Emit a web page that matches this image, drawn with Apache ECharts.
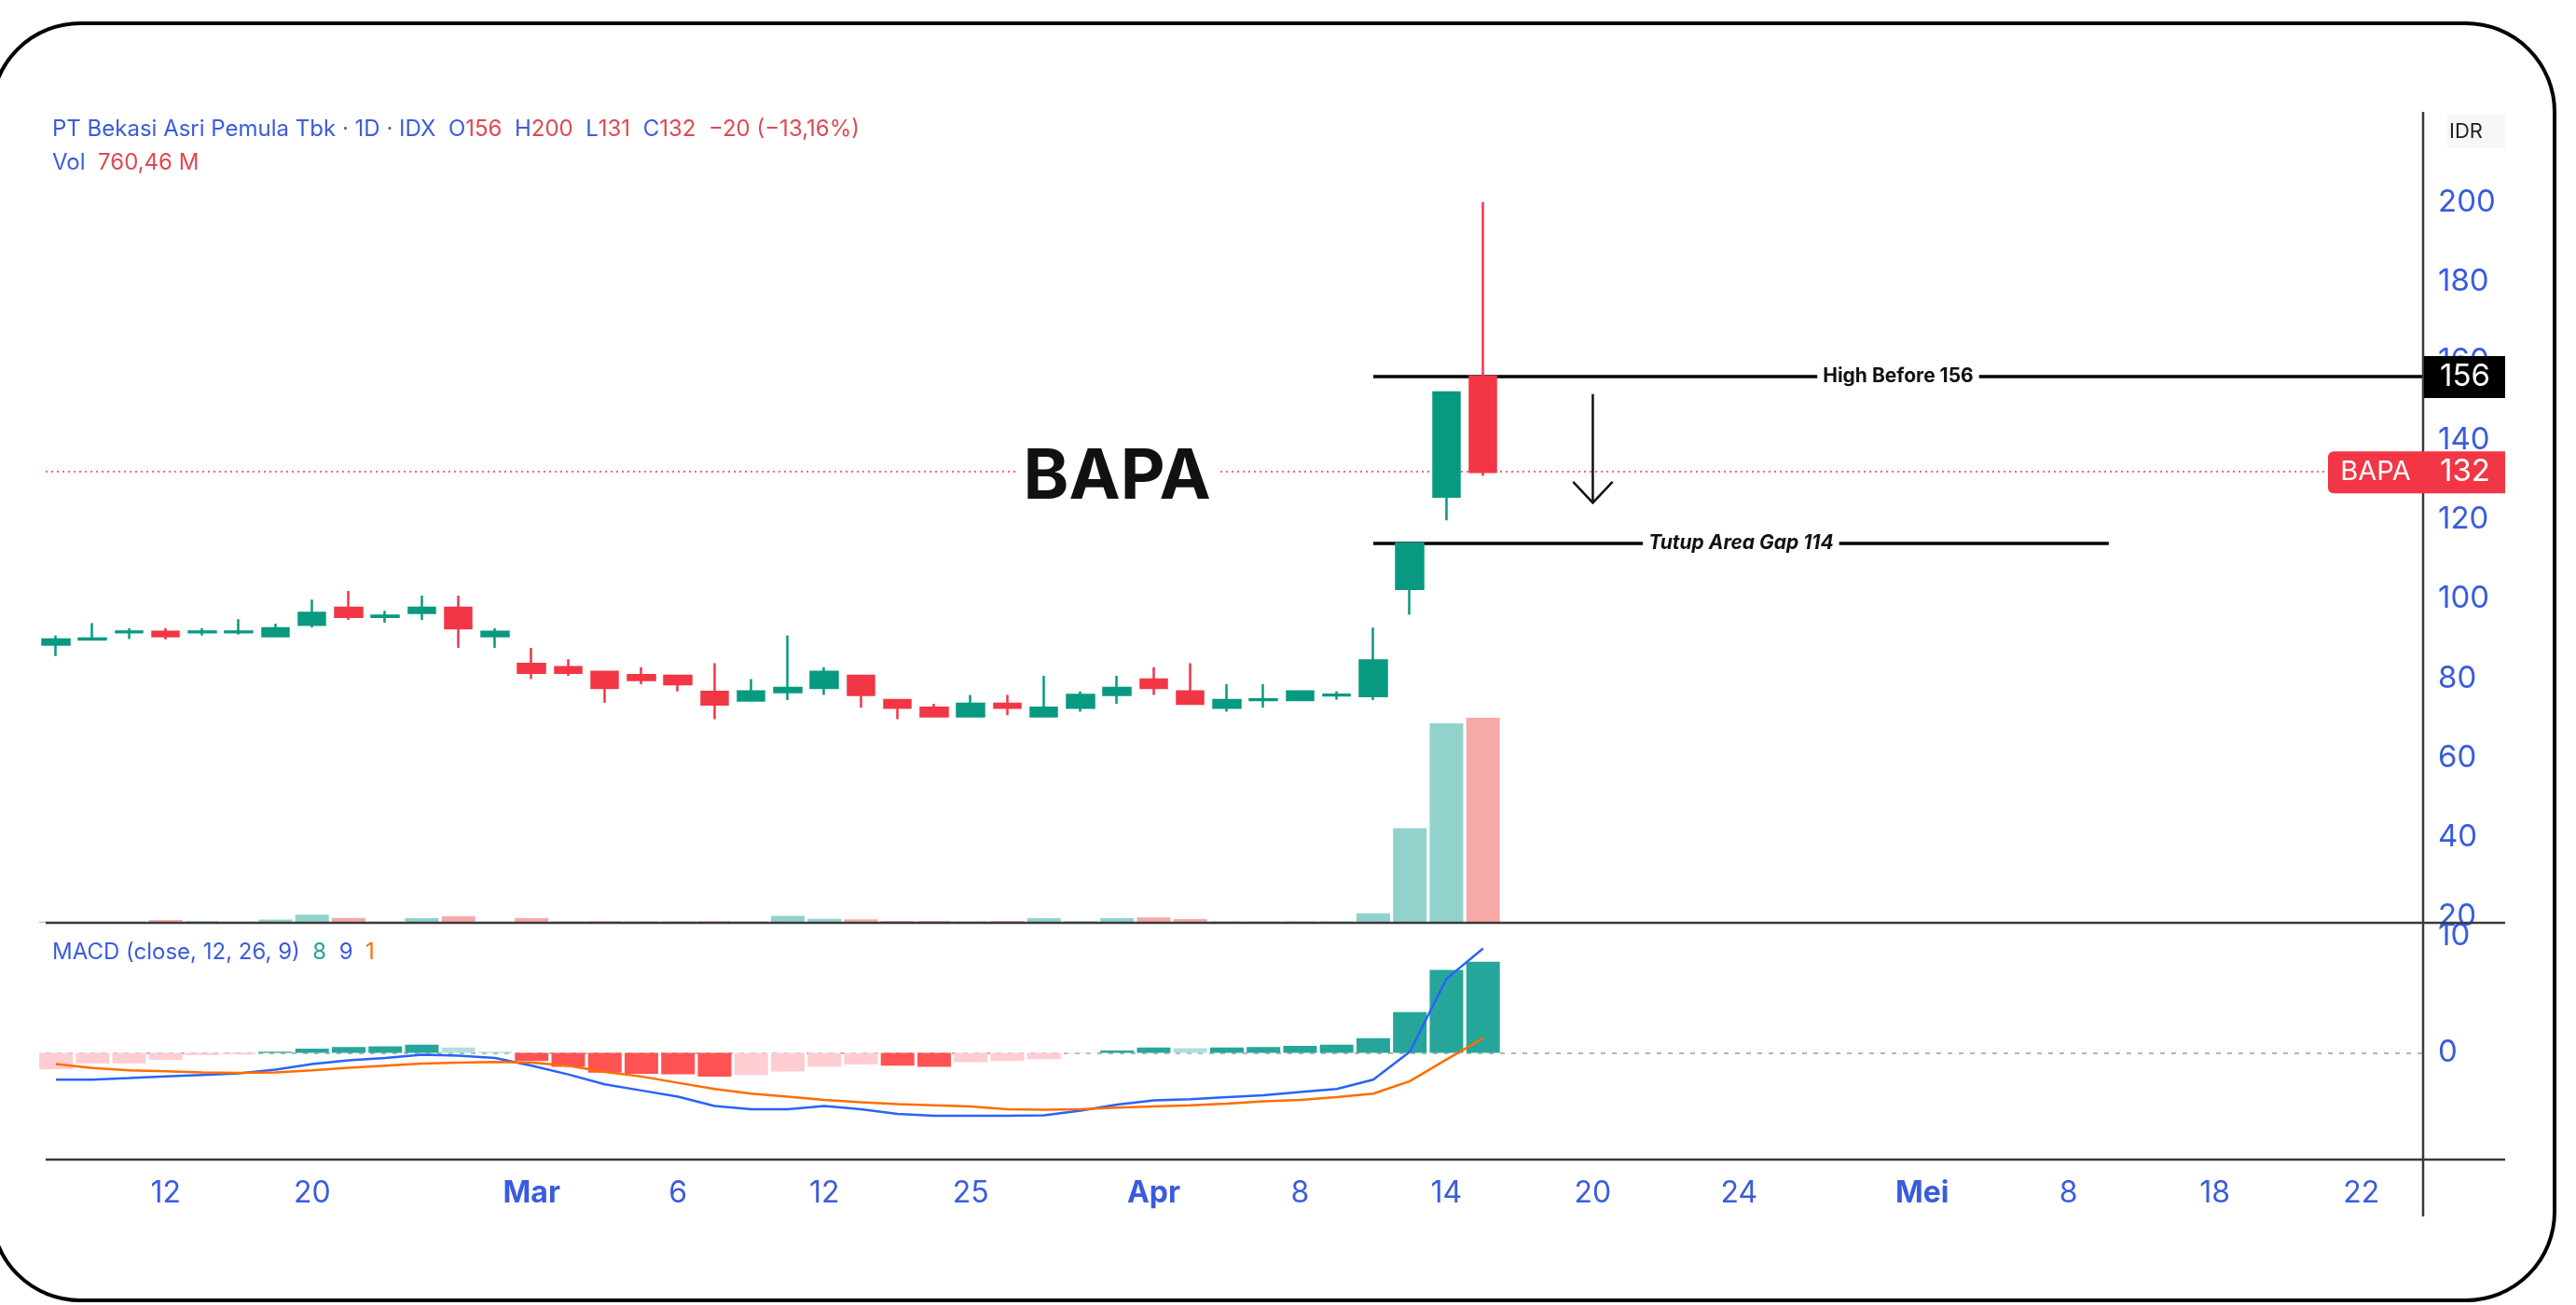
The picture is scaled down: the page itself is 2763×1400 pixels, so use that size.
<!DOCTYPE html>
<html>
<head>
<meta charset="utf-8">
<title>BAPA</title>
<script src="https://cdn.jsdelivr.net/npm/echarts@6/dist/echarts.min.js"></script>
<style>
  html, body { margin: 0; padding: 0; background: #fff; }
  #main { width: 2763px; height: 1400px; }
</style>
</head>
<body>
<div id="main"></div>
<script>
// daily candles, slot 1..40
var candleOpen  = [88.5, 89.8, 91.6, 91.7, 91.6, 91.6, 90.6, 93.5, 97.8, 95.5, 96.5, 97.8, 90.6, 83.6, 82.8, 81.6, 80.8, 80.6, 76.6, 74.4,
                   76.5, 77.6, 80.6, 74.5, 72.6, 70.4, 73.6, 70.4, 72.6, 75.8, 79.7, 76.7, 72.6, 74.5, 74.5, 75.7, 75.5, 102.5, 125.8, 156];
var candleClose = [89.8, 90.0, 91.8, 90.6, 91.8, 91.8, 92.6, 96.5, 95.5, 95.8, 97.8, 92.6, 91.7, 81.4, 81.4, 77.6, 79.6, 78.5, 73.4, 76.7,
                   77.6, 81.6, 75.8, 72.6, 70.4, 73.6, 72.6, 72.6, 75.8, 77.6, 77.6, 73.6, 74.5, 74.7, 76.7, 75.9, 84.5, 114, 152, 132];
var candleLow   = [85.6, 89.7, 89.9, 89.8, 90.8, 91.0, 90.5, 92.8, 94.7, 94.0, 94.7, 87.7, 87.7, 79.8, 80.6, 73.8, 78.5, 76.7, 69.7, 74.4,
                   74.5, 75.8, 72.6, 69.7, 70.4, 70.4, 70.7, 70.4, 71.6, 73.6, 75.8, 73.6, 71.6, 72.6, 74.3, 74.6, 74.5, 96, 119.8, 131];
var candleHigh  = [90.8, 93.9, 92.6, 92.6, 92.6, 94.9, 93.8, 99.8, 102.0, 97.0, 100.8, 100.8, 92.6, 87.7, 84.8, 81.6, 82.8, 80.6, 83.8, 79.8,
                   90.8, 82.8, 80.6, 74.5, 73.6, 75.8, 75.8, 80.6, 76.7, 80.6, 82.8, 83.8, 78.5, 78.5, 76.9, 76.7, 92.8, 114, 152, 200];
// volume in millions
var volumeM = [4, 4, 4, 10, 6, 4, 12, 30, 18, 4, 17, 24, 4, 17, 5, 6, 5, 5, 6, 5,
               26, 15, 13, 7, 7, 5, 7, 17, 6, 17, 20, 14, 5, 5, 5, 5, 35, 351, 740, 760.46];
// MACD (close, 12, 26, 9)
var macdHist = [-1.4, -0.9, -0.9, -0.6, -0.2, -0.15, 0.1, 0.35, 0.5, 0.55, 0.7, 0.45, 0.1, -0.7, -1.2, -1.7, -1.8, -1.85, -2.05, -1.9,
                -1.6, -1.2, -1.0, -1.1, -1.2, -0.8, -0.7, -0.55, -0.05, 0.2, 0.45, 0.4, 0.45, 0.5, 0.6, 0.7, 1.25, 3.5, 7.1, 7.8];
var macdLine = [-2.3, -2.3, -2.17, -2.03, -1.9, -1.77, -1.45, -0.97, -0.65, -0.44, -0.17, -0.25, -0.44, -1.1, -1.85, -2.7, -3.23, -3.76, -4.56, -4.83,
                -4.83, -4.56, -4.83, -5.23, -5.4, -5.4, -5.4, -5.36, -4.96, -4.43, -4.08, -3.98, -3.8, -3.63, -3.36, -3.1, -2.3, 0.1, 6.34, 8.95];
var signalLine = [-0.97, -1.3, -1.5, -1.58, -1.69, -1.72, -1.69, -1.5, -1.29, -1.1, -0.92, -0.84, -0.78, -0.84, -1.1, -1.64, -2.03, -2.57, -3.1, -3.5,
                  -3.76, -4.03, -4.24, -4.4, -4.5, -4.6, -4.83, -4.88, -4.83, -4.7, -4.6, -4.5, -4.35, -4.16, -4.03, -3.8, -3.5, -2.43, -0.57, 1.24];

// time axis labels (slot -> text)
var tickPos  = [4, 8, 14, 18, 22, 26, 31, 35, 39, 43, 47, 52, 56, 60, 64];
var tickText = ['12', '20', 'Mar', '6', '12', '25', 'Apr', '8', '14', '20', '24', 'Mei', '8', '18', '22'];
var monthLabels = ['Mar', 'Apr', 'Mei'];
var priceTicks = [20, 40, 60, 80, 100, 120, 140, 160, 180, 200];
var macdTicks = [0, 10];

// annotations
var highBefore = 156;
var gapLevel = 114;
var lineStart = 37, gapLineEnd = 57.1;

var UP = '#089981', DOWN = '#f23645';
var BLUE = '#3a5cdc', RED = '#dc4a52';
var FONT = 'Inter, Roboto, sans-serif';
var xMin = 0.72, xMax = 65.69;

var candles = candleOpen.map(function (o, i) {
  return [i + 1, o, candleClose[i], candleLow[i], candleHigh[i]];
});
var volumeData = volumeM.map(function (v, i) {
  var up = candleClose[i] >= candleOpen[i];
  return { value: [i + 1, v], itemStyle: { color: up ? '#92d2cc' : '#f7a9a7' } };
});
var histData = macdHist.map(function (h, i) {
  var prev = i > 0 ? macdHist[i - 1] : h;
  var c;
  if (h >= 0) c = h >= prev ? '#26a69a' : '#b2dfdb';
  else c = h < prev ? '#ff5252' : '#ffcdd2';
  return { value: [i + 1, h], itemStyle: { color: c } };
});
var macdData = macdLine.map(function (v, i) { return [i + 1, v]; });
var signalData = signalLine.map(function (v, i) { return [i + 1, v]; });
var lastClose = candleClose[candleClose.length - 1];

var chart = echarts.init(document.getElementById('main'));

var option = {
  animation: false,
  backgroundColor: '#fff',
  grid: [
    { left: 49, top: 120, width: 2550, height: 870 },
    { left: 49, top: 990, width: 2550, height: 254 }
  ],
  xAxis: [
    { type: 'value', gridIndex: 0, min: xMin, max: xMax, show: false },
    {
      type: 'value', gridIndex: 1, min: xMin, max: xMax,
      axisLine: { show: false }, axisTick: { show: false }, splitLine: { show: false },
      axisLabel: {
        customValues: tickPos,
        margin: 20,
        formatter: function (v) {
          var t = tickText[tickPos.indexOf(v)];
          if (t == null) return '';
          return monthLabels.indexOf(t) >= 0 ? '{m|' + t + '}' : '{d|' + t + '}';
        },
        rich: {
          m: { color: BLUE, fontSize: 32, fontWeight: 'bold', fontFamily: FONT },
          d: { color: BLUE, fontSize: 32, fontFamily: FONT }
        }
      }
    }
  ],
  yAxis: [
    {
      type: 'value', gridIndex: 0, position: 'right', min: 18.4, max: 222.7,
      axisLine: { show: false }, axisTick: { show: false }, splitLine: { show: false },
      axisLabel: { customValues: priceTicks, color: BLUE, fontSize: 33, fontFamily: FONT, margin: 16 }
    },
    { type: 'value', gridIndex: 0, min: 0, max: 3007, show: false },
    {
      type: 'value', gridIndex: 1, position: 'right', min: -9.15, max: 11.14,
      axisLine: { show: false }, axisTick: { show: false }, splitLine: { show: false },
      axisLabel: { customValues: macdTicks, color: BLUE, fontSize: 33, fontFamily: FONT, margin: 16 }
    }
  ],
  series: [
    {
      name: 'Vol', type: 'bar', xAxisIndex: 0, yAxisIndex: 1, clip: true,
      data: volumeData, barWidth: 36, z: 1
    },
    {
      name: 'BAPA', type: 'candlestick', xAxisIndex: 0, yAxisIndex: 0, clip: true,
      data: candles, encode: { x: 0, y: [1, 2, 3, 4] },
      barWidth: 29, z: 3,
      itemStyle: { color: UP, color0: DOWN, borderColor: UP, borderColor0: DOWN, borderWidth: 2.5 },
      markLine: {
        z: 2, silent: true, symbol: ['none', 'none'],
        data: [
          { yAxis: lastClose, lineStyle: { color: DOWN, type: [2, 4], width: 1.5 }, label: { show: false } },
          [
            { coord: [lineStart, highBefore] },
            { coord: [xMax, highBefore] }
          ],
          [
            { coord: [lineStart, gapLevel], label: { formatter: 'Tutup Area Gap 114', fontStyle: 'italic' } },
            { coord: [gapLineEnd, gapLevel] }
          ]
        ],
        lineStyle: { color: '#000', type: 'solid', width: 3.5 },
        label: {
          show: true, position: 'middle', distance: 0, verticalAlign: 'middle',
          formatter: 'High Before 156', color: '#111', fontSize: 21, fontWeight: 'bold', fontFamily: FONT,
          backgroundColor: '#fff', padding: [2, 6]
        }
      }
    },
    {
      name: 'Histogram', type: 'bar', xAxisIndex: 1, yAxisIndex: 2, clip: true,
      data: histData, barWidth: 36, z: 2,
      markLine: {
        z: 1, silent: true, symbol: ['none', 'none'],
        data: [{ yAxis: 0 }],
        lineStyle: { color: '#b5b5b5', type: [5, 7], width: 2 },
        label: { show: false }
      }
    },
    {
      name: 'MACD', type: 'line', xAxisIndex: 1, yAxisIndex: 2,
      data: macdData, showSymbol: false, z: 4,
      lineStyle: { color: '#2962ff', width: 2.5 }
    },
    {
      name: 'Signal', type: 'line', xAxisIndex: 1, yAxisIndex: 2,
      data: signalData, showSymbol: false, z: 4,
      lineStyle: { color: '#ff6d00', width: 2.5 }
    }
  ]
};
chart.setOption(option);

// overlays placed through the chart's own scales
function px(x, y) { return chart.convertToPixel({ xAxisIndex: 0, yAxisIndex: 0 }, [x, y]); }
var axX = px(xMax, 0)[0];
var yHigh = px(xMax, highBefore)[1];
var yLast = px(xMax, lastClose)[1];
var bapaPt = px(30, 130.4);
var arrTop = px(43, 151.6), arrTip = px(43, 124.2);
var wingL = px(42.46, 129.5), wingR = px(43.54, 129.5);
var paneRight = 2687;
var TXT = 24;

var graphics = [
  // outer rounded frame
  { type: 'rect', shape: { x: -9, y: 25, width: 2749, height: 1370, r: 95 }, style: { fill: 'none', stroke: '#000', lineWidth: 4 }, z: 100 },
  // pane separators and price scale border
  { type: 'line', shape: { x1: 49, y1: 990, x2: paneRight, y2: 990 }, style: { stroke: '#3a3a3a', lineWidth: 2.5 }, z: 50 },
  { type: 'line', shape: { x1: 49, y1: 1244, x2: paneRight, y2: 1244 }, style: { stroke: '#3a3a3a', lineWidth: 2.5 }, z: 50 },
  { type: 'line', shape: { x1: axX, y1: 120, x2: axX, y2: 1305 }, style: { stroke: '#3a3a3a', lineWidth: 2.5 }, z: 50 },
  // IDR
  { type: 'rect', shape: { x: 2625, y: 123, width: 62, height: 36 }, style: { fill: '#f7f7f7' }, z: 50 },
  { type: 'text', x: 2645, y: 141, style: { text: 'IDR', fill: '#222', fontSize: 22, fontFamily: FONT, textAlign: 'center', textVerticalAlign: 'middle' }, z: 51 },
  // legend lines
  {
    type: 'text', x: 56, y: 139, z: 60,
    style: {
      text: '{b|PT Bekasi Asri Pemula Tbk · 1D · IDX  O}{r|156}{b|  H}{r|200}{b|  L}{r|131}{b|  C}{r|132}{r|  −20 (−13,16%)}',
      textVerticalAlign: 'middle',
      rich: {
        b: { fill: BLUE, fontSize: TXT, fontFamily: FONT },
        r: { fill: RED, fontSize: TXT, fontFamily: FONT }
      }
    }
  },
  {
    type: 'text', x: 56, y: 175, z: 60,
    style: {
      text: '{b|Vol  }{r|760,46 M}', textVerticalAlign: 'middle',
      rich: {
        b: { fill: BLUE, fontSize: TXT, fontFamily: FONT },
        r: { fill: RED, fontSize: TXT, fontFamily: FONT }
      }
    }
  },
  {
    type: 'text', x: 56, y: 1022, z: 60,
    style: {
      text: '{b|MACD (close, 12, 26, 9)  }{g|8}{b|  9  }{o|1}', textVerticalAlign: 'middle',
      rich: {
        b: { fill: BLUE, fontSize: TXT, fontFamily: FONT },
        g: { fill: '#26a69a', fontSize: TXT, fontFamily: FONT },
        o: { fill: '#ff6d00', fontSize: TXT, fontFamily: FONT }
      }
    }
  },
  // price tags on the scale
  { type: 'rect', shape: { x: axX + 1, y: yHigh - 22, width: paneRight - axX - 1, height: 45 }, style: { fill: '#000' }, z: 70 },
  { type: 'text', x: axX + 18, y: yHigh, style: { text: String(highBefore), fill: '#fff', fontSize: 33, fontFamily: FONT, textVerticalAlign: 'middle' }, z: 71 },
  { type: 'rect', shape: { x: axX - 102, y: yLast - 22, width: paneRight - axX + 102, height: 45, r: [6, 0, 0, 6] }, style: { fill: DOWN }, z: 70 },
  { type: 'text', x: axX - 51, y: yLast, style: { text: 'BAPA', fill: '#fff', fontSize: 29, fontFamily: FONT, textAlign: 'center', textVerticalAlign: 'middle' }, z: 71 },
  { type: 'text', x: axX + 18, y: yLast, style: { text: String(lastClose), fill: '#fff', fontSize: 33, fontFamily: FONT, textVerticalAlign: 'middle' }, z: 71 },
  // ticker watermark
  {
    type: 'text', x: bapaPt[0], y: bapaPt[1], z: 40,
    style: { text: 'BAPA', fill: '#111', fontSize: 74, fontWeight: 'bold', fontFamily: FONT, textAlign: 'center', textVerticalAlign: 'middle', backgroundColor: '#fff', padding: [0, 8] }
  },
  // down arrow
  { type: 'line', shape: { x1: arrTop[0], y1: arrTop[1], x2: arrTip[0], y2: arrTip[1] }, style: { stroke: '#111', lineWidth: 2.5 }, z: 40 },
  { type: 'polyline', shape: { points: [wingL, arrTip, wingR] }, style: { stroke: '#111', lineWidth: 2.5, fill: null }, z: 40 }
];
chart.setOption({ graphic: graphics });
</script>
</body>
</html>
